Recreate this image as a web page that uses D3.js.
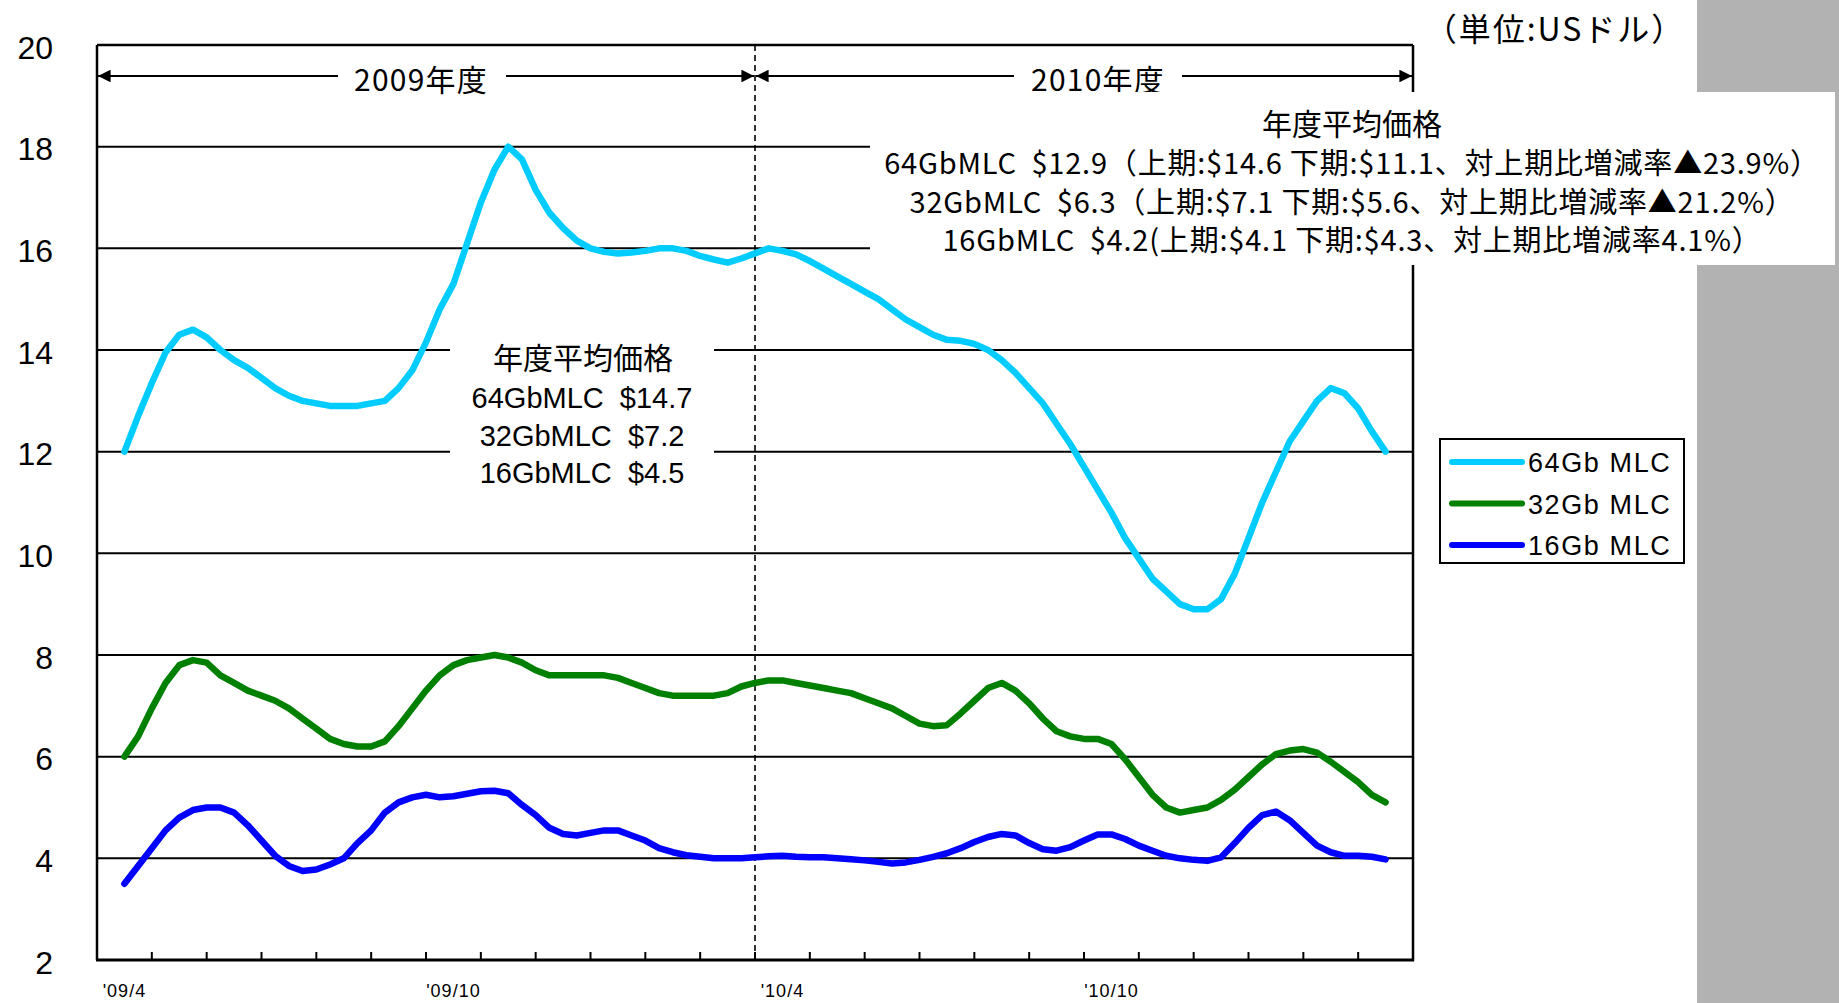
<!DOCTYPE html>
<html>
<head>
<meta charset="utf-8">
<script src="https://cdn.jsdelivr.net/npm/d3@7"></script>
<style>
  body { margin: 0; background: #fff; }
  svg { display: block; }
</style>
</head>
<body>
<svg id="chart" width="1839" height="1003"></svg>
<script>
// Month categories for FY2009–FY2010 (April 2009 – March 2011)
const months = ["'09/4","'09/5","'09/6","'09/7","'09/8","'09/9","'09/10","'09/11","'09/12","'10/1","'10/2","'10/3",
                "'10/4","'10/5","'10/6","'10/7","'10/8","'10/9","'10/10","'10/11","'10/12","'11/1","'11/2","'11/3"];
const monthLabels = ["'09/4","'09/10","'10/4","'10/10"];
const yTicks = [2,4,6,8,10,12,14,16,18,20];
const pointsPerMonth = 4;

// Weekly contract prices (US$)
const price64 = [12.0,12.7,13.35,13.95,14.3,14.4,14.25,14.0,13.8,13.65,
  13.45,13.25,13.1,13.0,12.95,12.9,12.9,12.9,12.95,13.0,
  13.25,13.6,14.15,14.8,15.3,16.1,16.9,17.55,18.0,17.75,
  17.15,16.7,16.4,16.15,16.0,15.93,15.9,15.92,15.95,16.0,
  16.0,15.95,15.85,15.78,15.72,15.8,15.9,16.0,15.95,15.88,
  15.75,15.6,15.45,15.3,15.15,15.0,14.8,14.6,14.45,14.3,
  14.2,14.18,14.12,14.0,13.8,13.55,13.25,12.95,12.55,12.15,
  11.7,11.25,10.8,10.3,9.9,9.5,9.25,9.0,8.9,8.9,
  9.1,9.6,10.3,11.0,11.6,12.2,12.6,13.0,13.25,13.15,
  12.85,12.4,12.0];
const price32 = [6.0,6.4,6.95,7.45,7.8,7.9,7.85,7.6,7.45,7.3,
  7.2,7.1,6.95,6.75,6.55,6.35,6.25,6.2,6.2,6.3,
  6.6,6.95,7.3,7.6,7.8,7.9,7.95,8.0,7.95,7.85,
  7.7,7.6,7.6,7.6,7.6,7.6,7.55,7.45,7.35,7.25,
  7.2,7.2,7.2,7.2,7.25,7.38,7.45,7.5,7.5,7.45,
  7.4,7.35,7.3,7.25,7.15,7.05,6.95,6.8,6.65,6.6,
  6.62,6.85,7.1,7.35,7.45,7.3,7.05,6.75,6.5,6.4,
  6.35,6.35,6.25,5.95,5.6,5.25,5.0,4.9,4.95,5.0,
  5.15,5.35,5.6,5.85,6.05,6.12,6.15,6.08,5.9,5.7,
  5.5,5.25,5.1];
const price16 = [3.5,3.85,4.2,4.55,4.8,4.95,5.0,5.0,4.9,4.65,
  4.35,4.05,3.85,3.75,3.78,3.88,4.0,4.3,4.55,4.9,
  5.1,5.2,5.25,5.2,5.22,5.27,5.32,5.33,5.28,5.05,
  4.85,4.6,4.48,4.45,4.5,4.55,4.55,4.45,4.35,4.2,
  4.12,4.06,4.03,4.0,4.0,4.0,4.02,4.04,4.05,4.03,
  4.02,4.02,4.0,3.98,3.96,3.93,3.9,3.92,3.97,4.03,
  4.1,4.2,4.32,4.42,4.48,4.45,4.3,4.18,4.15,4.22,
  4.35,4.47,4.47,4.38,4.25,4.15,4.05,4.0,3.97,3.95,
  4.02,4.3,4.6,4.85,4.92,4.75,4.5,4.25,4.12,4.05,
  4.05,4.03,3.98];

const seriesNames = ["64Gb MLC","32Gb MLC","16Gb MLC"];
const seriesColors = ["#00ccff","#008000","#0000ff"];
const fiscalYears = ["2009年度","2010年度"];
const avgTitle = "年度平均価格";
const avg2009 = ["64GbMLC\u00a0\u00a0$14.7","32GbMLC\u00a0\u00a0$7.2","16GbMLC\u00a0\u00a0$4.5"];
const avg2010 = ["64GbMLC\u00a0\u00a0$12.9（上期:$14.6 下期:$11.1、対上期比増減率▲23.9%）",
                 "32GbMLC\u00a0\u00a0$6.3（上期:$7.1 下期:$5.6、対上期比増減率▲21.2%）",
                 "16GbMLC\u00a0\u00a0$4.2(上期:$4.1 下期:$4.3、対上期比増減率4.1%）"];
const unitLabel = "（単位:USドル）";

const series = [price64, price32, price16];

// ---- layout ----
const svg = d3.select("#chart");
const plot = { left: 97, right: 1413, top: 45, bottom: 960 };
const condensed = "'Liberation Sans Narrow', 'Noto Sans CJK JP', sans-serif";
const gothic = "'Liberation Sans', 'Noto Sans CJK JP', sans-serif";

const x = d3.scaleBand().domain(months).range([plot.left, plot.right]).paddingInner(0).paddingOuter(0);
const xMonth = d3.scaleLinear().domain([0, months.length]).range([plot.left, plot.right]);
const y = d3.scaleLinear().domain([2, 20]).range([plot.bottom, plot.top]);
const px = i => xMonth(0.5 + i / pointsPerMonth);

// grey strip on the right
svg.append("rect").attr("x", 1697).attr("y", 0).attr("width", 142).attr("height", 1003).attr("fill", "#b2b2b2");

// arrow markers
const defs = svg.append("defs");
defs.append("marker").attr("id", "arrowEnd").attr("viewBox", "0 0 10 10").attr("refX", 10).attr("refY", 5)
  .attr("markerWidth", 7).attr("markerHeight", 7).attr("markerUnits", "strokeWidth").attr("orient", "auto")
  .append("path").attr("d", "M0,0 L10,5 L0,10 Z").attr("fill", "#000");

// horizontal gridlines
svg.append("g").selectAll("line").data(yTicks.filter(v => v > 2))
  .join("line")
  .attr("x1", plot.left).attr("x2", plot.right)
  .attr("y1", d => y(d)).attr("y2", d => y(d))
  .attr("stroke", "#000").attr("stroke-width", 2);

// y-axis labels
const yAxis = svg.append("g").attr("transform", `translate(${plot.left - 44},3)`)
  .call(d3.axisLeft(y).tickValues(yTicks).tickSize(0).tickPadding(0).tickFormat(d3.format("d")));
yAxis.select(".domain").remove();
yAxis.selectAll("text").attr("font-family", "'Liberation Sans', Arial, sans-serif").attr("font-size", 32).attr("fill", "#000");

// fiscal-year divider
const divX = x(months[12]);
svg.append("line").attr("x1", divX).attr("x2", divX).attr("y1", plot.top).attr("y2", plot.bottom)
  .attr("stroke", "#000").attr("stroke-width", 1.6).attr("stroke-dasharray", "6,4");

// fiscal-year spans with arrows
const spans = [
  { label: fiscalYears[0], x0: plot.left, x1: divX, gap: [338, 506], cx: 421 },
  { label: fiscalYears[1], x0: divX, x1: plot.right, gap: [1014, 1182], cx: 1098 }
];
const arrowY = 76;
spans.forEach(s => {
  svg.append("line").attr("x1", s.gap[0]).attr("x2", s.x0 + 1).attr("y1", arrowY).attr("y2", arrowY)
    .attr("stroke", "#000").attr("stroke-width", 1.8).attr("marker-end", "url(#arrowEnd)");
  svg.append("line").attr("x1", s.gap[1]).attr("x2", s.x1 - 1).attr("y1", arrowY).attr("y2", arrowY)
    .attr("stroke", "#000").attr("stroke-width", 1.8).attr("marker-end", "url(#arrowEnd)");
  svg.append("text").attr("x", s.cx).attr("y", arrowY + 2).attr("text-anchor", "middle")
    .attr("dominant-baseline", "central").attr("font-family", condensed).attr("font-size", 30)
    .attr("letter-spacing", 1.2).text(s.label);
});

// plot frame
svg.append("line").attr("x1", plot.left).attr("x2", plot.right).attr("y1", plot.top).attr("y2", plot.top)
  .attr("stroke", "#000").attr("stroke-width", 2.5);
svg.append("line").attr("x1", plot.left).attr("x2", plot.left).attr("y1", plot.top).attr("y2", plot.bottom)
  .attr("stroke", "#000").attr("stroke-width", 2.5);
svg.append("line").attr("x1", plot.right).attr("x2", plot.right).attr("y1", plot.top).attr("y2", plot.bottom + 1)
  .attr("stroke", "#000").attr("stroke-width", 2.5);
svg.append("line").attr("x1", plot.left - 1).attr("x2", plot.right + 1).attr("y1", plot.bottom).attr("y2", plot.bottom)
  .attr("stroke", "#000").attr("stroke-width", 3);

// month tick marks (pointing into the plot)
svg.append("g").selectAll("line").data(months.slice(1))
  .join("line")
  .attr("x1", d => x(d)).attr("x2", d => x(d))
  .attr("y1", plot.bottom).attr("y2", plot.bottom - 8)
  .attr("stroke", "#000").attr("stroke-width", 2);

// month labels every half year
svg.append("g").selectAll("text").data(monthLabels)
  .join("text")
  .attr("x", d => x(d) + x.bandwidth() / 2).attr("y", 991)
  .attr("text-anchor", "middle").attr("dominant-baseline", "central")
  .attr("font-family", "'Liberation Sans', sans-serif").attr("font-size", 18).attr("letter-spacing", 1)
  .text(d => d);

// FY2009 average box
svg.append("rect").attr("x", 450).attr("y", 332).attr("width", 264).attr("height", 160).attr("fill", "#fff");
const box09 = svg.append("g").attr("font-family", gothic).attr("font-size", 29).attr("text-anchor", "middle");
box09.append("text").attr("x", 583).attr("y", 358).attr("dominant-baseline", "central")
  .attr("font-size", 30).text(avgTitle);
box09.selectAll("text.row").data(avg2009).join("text").attr("class", "row")
  .attr("x", 582).attr("y", (d, i) => 398 + i * 37.5).attr("dominant-baseline", "central").text(d => d);

// price lines
const line = d3.line().x((d, i) => px(i)).y(d => y(d));
svg.append("g").selectAll("path").data(series).join("path")
  .attr("d", line).attr("fill", "none")
  .attr("stroke", (d, i) => seriesColors[i]).attr("stroke-width", 6.5)
  .attr("stroke-linejoin", "round").attr("stroke-linecap", "round");

// FY2010 average box
svg.append("rect").attr("x", 870).attr("y", 92).attr("width", 965).attr("height", 173).attr("fill", "#fff");
const box10 = svg.append("g").attr("font-family", condensed).attr("font-size", 29).attr("text-anchor", "middle");
box10.append("text").attr("x", 1352).attr("y", 124).attr("dominant-baseline", "central")
  .attr("font-family", gothic).attr("font-size", 30).text(avgTitle);
box10.selectAll("text.row").data(avg2010).join("text").attr("class", "row")
  .attr("x", 1352).attr("y", (d, i) => 161 + i * 38.5).attr("dominant-baseline", "central")
  .attr("letter-spacing", 0.8).text(d => d);

// unit label
svg.append("text").attr("x", 1555).attr("y", 27).attr("text-anchor", "middle").attr("dominant-baseline", "central")
  .attr("font-family", condensed).attr("font-size", 32).attr("letter-spacing", 2).text(unitLabel);

// legend
const legend = svg.append("g");
legend.append("rect").attr("x", 1440).attr("y", 439).attr("width", 244).attr("height", 124)
  .attr("fill", "#fff").attr("stroke", "#000").attr("stroke-width", 2);
seriesNames.forEach((name, i) => {
  const ly = 462 + i * 41.5;
  legend.append("line").attr("x1", 1452).attr("x2", 1522).attr("y1", ly).attr("y2", ly)
    .attr("stroke", seriesColors[i]).attr("stroke-width", 6).attr("stroke-linecap", "round");
  legend.append("text").attr("x", 1528).attr("y", ly + 1).attr("dominant-baseline", "central")
    .attr("font-family", "'Liberation Sans', sans-serif").attr("font-size", 27).attr("letter-spacing", 1.6)
    .text(name);
});
</script>
</body>
</html>
